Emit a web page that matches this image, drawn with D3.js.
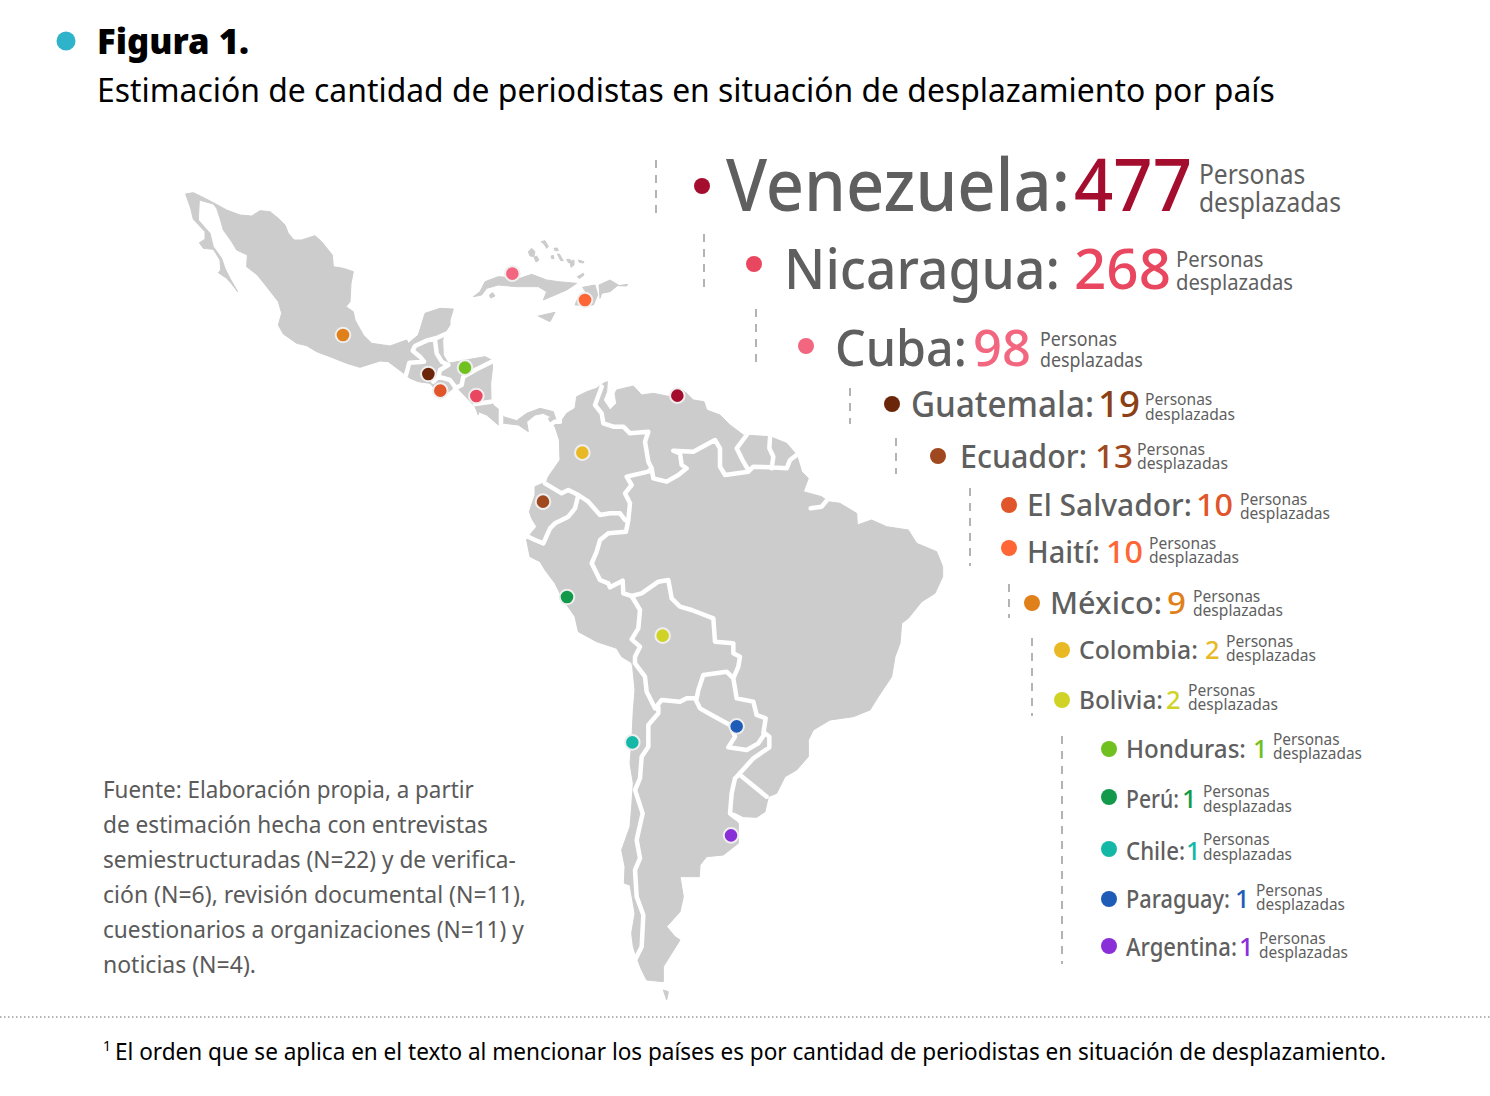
<!DOCTYPE html>
<html lang="es">
<head>
<meta charset="UTF-8">
<title>Figura 1</title>
<script src="https://d3js.org/d3.v7.min.js"></script>
<style>
body { margin: 0; background: #fff; }
svg { display: block; }
text { font-family: "Noto Sans", sans-serif; }
.land { fill: #cccccc; stroke: #cccccc; stroke-width: 1; stroke-linejoin: round; }
.border { fill: none; stroke: #fff; stroke-width: 4.5; stroke-linejoin: round; stroke-linecap: round; }
.guide { stroke: #9a9a9a; stroke-width: 1.5; stroke-dasharray: 8 7; }
.name, .sub { fill: #5f5f5f; }
.name, .number { font-weight: 500; }
.source { fill: #5a5a5a; }
.heading { font-weight: 900; fill: #000; }
</style>
</head>
<body>
<script>
// chart values
const countries = ["Venezuela", "Nicaragua", "Cuba", "Guatemala", "Ecuador", "El Salvador", "Haití", "México", "Colombia", "Bolivia", "Honduras", "Perú", "Chile", "Paraguay", "Argentina"]
const counts = [477, 268, 98, 19, 13, 10, 10, 9, 2, 2, 1, 1, 1, 1, 1]
const unitLines = ["Personas", "desplazadas"]
const sourceLines = [
  "Fuente: Elaboración propia, a partir",
  "de estimación hecha con entrevistas",
  "semiestructuradas (N=22) y de verifica-",
  "ción (N=6), revisión documental (N=11),",
  "cuestionarios a organizaciones (N=11) y",
  "noticias (N=4)."
]

// where each country's marker sits on the traced map sheet
const markerX = [2032, 1429, 1537, 1285, 1629, 1321, 1755, 1029, 1747, 1988, 1395, 1701, 1897, 2210, 2193]
const markerY = [1187, 1188, 821, 1122, 1505, 1172, 900, 1005, 1358, 1907, 1103, 1791, 2227, 2179, 2506]

// map outlines, traced on a sheet of three units per pixel
const mainland = [[557,582],[580,578],[605,590],[640,608],[680,630],[720,645],[755,648],[780,632],[810,635],[835,655],[855,675],[865,700],[882,720],[905,720],[945,707],[965,725],[997,765],[1000,800],[1030,805],[1060,815],[1053,850],[1050,905],[1038,920],[1060,935],[1065,960],[1090,1005],[1115,1030],[1150,1035],[1170,1038],[1220,1020],[1225,1030],[1255,1005],[1275,940],[1320,925],[1360,927],[1350,960],[1350,975],[1335,998],[1328,1020],[1330,1065],[1345,1090],[1415,1077],[1455,1070],[1475,1080],[1478,1100],[1472,1150],[1473,1202],[1480,1215],[1500,1232],[1510,1250],[1550,1262],[1580,1240],[1620,1225],[1660,1235],[1670,1265],[1680,1270],[1700,1240],[1725,1225],[1730,1190],[1760,1175],[1790,1165],[1810,1150],[1822,1145],[1820,1175],[1810,1200],[1830,1230],[1850,1210],[1845,1180],[1850,1170],[1900,1158],[1925,1185],[1960,1180],[2010,1190],[2055,1175],[2080,1200],[2112,1205],[2120,1230],[2160,1245],[2190,1275],[2230,1305],[2310,1310],[2360,1330],[2390,1365],[2405,1415],[2425,1435],[2410,1475],[2465,1490],[2485,1505],[2520,1510],[2570,1540],[2572,1575],[2615,1560],[2660,1580],[2725,1590],[2750,1630],[2810,1655],[2828,1700],[2828,1730],[2805,1780],[2765,1805],[2725,1855],[2705,1870],[2700,1930],[2685,1970],[2675,2030],[2635,2090],[2610,2130],[2560,2150],[2490,2160],[2440,2190],[2425,2220],[2425,2270],[2390,2310],[2355,2330],[2330,2380],[2305,2390],[2295,2435],[2270,2452],[2230,2450],[2200,2435],[2195,2450],[2215,2470],[2215,2530],[2170,2565],[2120,2570],[2100,2595],[2098,2630],[2040,2630],[2050,2690],[2040,2735],[2000,2780],[2025,2810],[2040,2820],[1990,2900],[1990,2945],[1940,2940],[1925,2910],[1915,2885],[1900,2840],[1895,2800],[1905,2740],[1890,2655],[1873,2650],[1875,2600],[1865,2550],[1890,2480],[1895,2420],[1900,2350],[1890,2290],[1895,2230],[1900,2130],[1905,2070],[1898,2000],[1895,1988],[1865,1970],[1850,1945],[1790,1925],[1735,1895],[1725,1850],[1690,1800],[1665,1750],[1635,1710],[1620,1685],[1590,1670],[1580,1620],[1585,1610],[1610,1580],[1595,1555],[1588,1535],[1605,1485],[1605,1460],[1640,1445],[1645,1430],[1680,1380],[1678,1320],[1665,1280],[1650,1265],[1645,1255],[1655,1252],[1630,1240],[1605,1245],[1580,1265],[1585,1295],[1555,1275],[1513,1270],[1495,1275],[1460,1245],[1435,1235],[1435,1245],[1425,1220],[1378,1170],[1370,1158],[1360,1165],[1325,1190],[1290,1150],[1255,1145],[1230,1135],[1218,1125],[1165,1085],[1140,1083],[1080,1102],[1040,1090],[990,1070],[950,1055],[920,1037],[890,1030],[850,1002],[835,975],[845,940],[835,905],[800,860],[772,825],[740,800],[742,765],[710,750],[695,725],[670,690],[660,655],[650,625],[640,612],[598,600],[595,660],[630,700],[640,740],[665,775],[675,805],[690,835],[713,875],[695,852],[680,835],[655,818],[662,810],[660,780],[640,748],[610,745],[598,728],[615,718],[615,695],[580,658],[572,625],[557,582]]
const islands = [
  [[1420,890],[1440,875],[1455,845],[1495,830],[1560,835],[1595,823],[1640,840],[1675,845],[1730,850],[1700,870],[1630,900],[1640,875],[1615,860],[1550,860],[1495,855],[1460,865],[1445,885],[1420,890]],
  [[1468,885],[1478,878],[1485,888],[1472,894],[1468,885]],
  [[1615,948],[1665,937],[1650,965],[1635,958],[1615,948]],
  [[1748,862],[1785,855],[1793,885],[1780,915],[1725,915],[1735,890],[1760,880],[1748,862]],
  [[1797,855],[1830,840],[1855,855],[1830,875],[1805,880],[1800,895],[1797,855]],
  [[1855,857],[1883,853],[1880,858],[1855,857]],
  [[1585,755],[1595,745],[1605,755],[1602,770],[1590,768],[1585,755]],
  [[1602,772],[1610,768],[1617,780],[1608,786],[1602,772]],
  [[1623,725],[1635,722],[1645,740],[1640,745],[1632,732],[1623,725]],
  [[1662,745],[1672,744],[1675,752],[1665,752],[1662,745]],
  [[1653,768],[1660,766],[1662,776],[1655,776],[1653,768]],
  [[1672,762],[1678,762],[1690,782],[1682,782],[1672,762]],
  [[1700,778],[1710,778],[1715,788],[1705,788],[1700,778]],
  [[1710,785],[1722,780],[1722,795],[1713,802],[1710,785]],
  [[1735,780],[1752,785],[1750,789],[1738,787],[1735,780]],
  [[1732,830],[1750,820],[1752,825],[1738,836],[1732,830]],
  [[1990,2970],[2005,2975],[2000,3000],[1995,2985],[1990,2970]]
]
const borders = [
  [[1345,998],[1315,1012],[1280,1022],[1245,1038],[1238,1052],[1260,1070],[1272,1085],[1228,1088],[1218,1125]],
  [[1305,1020],[1310,1060],[1325,1085],[1345,1095]],
  [[1345,1095],[1320,1110],[1315,1130],[1300,1145]],
  [[1315,1130],[1350,1140],[1365,1160]],
  [[1475,1085],[1430,1108],[1390,1130],[1385,1155],[1365,1165]],
  [[1425,1212],[1473,1205]],
  [[1503,1230],[1503,1280]],
  [[1650,1275],[1665,1265],[1680,1265]],
  [[1805,1160],[1785,1215],[1805,1240],[1810,1270],[1840,1280],[1870,1280],[1890,1300],[1945,1295],[1935,1325],[1945,1385],[1955,1405]],
  [[1955,1405],[1945,1415],[1880,1430],[1895,1455],[1875,1480],[1890,1510],[1885,1560],[1878,1595]],
  [[1875,1560],[1860,1540],[1830,1540],[1800,1545],[1765,1505],[1735,1485],[1705,1470],[1685,1480],[1635,1450]],
  [[1735,1485],[1725,1525],[1705,1550],[1665,1570],[1650,1585],[1630,1630],[1605,1620],[1585,1610]],
  [[1955,1405],[1960,1435],[2000,1445],[2035,1425],[2060,1405],[2045,1395],[2040,1360],[2020,1352],[2080,1355],[2145,1320],[2160,1345],[2160,1400],[2175,1425],[2245,1415],[2260,1400],[2310,1402],[2360,1405],[2370,1380],[2390,1365]],
  [[2240,1305],[2210,1345],[2230,1385],[2245,1410]],
  [[2310,1312],[2308,1345],[2320,1370],[2315,1405]],
  [[2480,1502],[2465,1520],[2432,1525]],
  [[1878,1595],[1825,1600],[1800,1620],[1790,1655],[1775,1690],[1800,1740],[1825,1750],[1830,1762],[1868,1742],[1870,1780],[1895,1788]],
  [[1895,1788],[1920,1830],[1915,1885],[1895,1918],[1920,1940],[1905,1970],[1905,1990]],
  [[1895,1788],[1925,1780],[1975,1745],[2005,1740],[2015,1795],[2040,1820],[2075,1830],[2140,1855],[2145,1925],[2200,1930],[2200,1960],[2220,1970],[2215,2000],[2200,2035]],
  [[2200,2035],[2180,2015],[2110,2025],[2095,2070],[2090,2095]],
  [[1905,1990],[1935,2030],[1940,2075],[1965,2125]],
  [[1965,2125],[1985,2100],[2040,2105],[2060,2095],[2085,2095],[2100,2125],[2135,2145],[2190,2175],[2205,2210],[2185,2242],[2240,2250],[2275,2230],[2295,2200]],
  [[2200,2035],[2210,2095],[2260,2105],[2270,2145],[2297,2155],[2290,2200]],
  [[2295,2200],[2308,2210],[2308,2242],[2260,2275],[2210,2330]],
  [[2220,2325],[2300,2390]],
  [[2205,2335],[2195,2380],[2190,2440],[2210,2455]],
  [[1975,2120],[1975,2140],[1945,2175],[1945,2240],[1925,2270],[1920,2335],[1905,2370],[1928,2440],[1910,2520],[1920,2575],[1905,2610],[1910,2690],[1930,2745],[1925,2840],[1905,2880]]
]

// palette
const markerColors = ["#a50d2e", "#e8475f", "#f2667f", "#6b2508", "#a0481f", "#e0562a", "#ff6635", "#e0801a", "#e8b825", "#d0d325", "#70c020", "#129a4a", "#15b8a6", "#1e5cb8", "#8a2fd8"]
const numberColors = ["#a50d2e", "#e8475f", "#f2667f", "#8b3f14", "#a0481f", "#e0562a", "#ff6635", "#e0801a", "#e8b825", "#d0d325", "#70c020", "#129a4a", "#15b8a6", "#1e5cb8", "#8a2fd8"]

// layout of the stacked list, one entry per country
const dotPos = [[702,186],[754,264],[806,346],[892,404],[938,456],[1009,505],[1009,548],[1032,603],[1062,650],[1062,700],[1109,749],[1109,797],[1109,849],[1109,899],[1109,946]]
const nameSpan = [[726,1070],[784,1060],[835,967],[911,1094],[960,1087],[1027,1192],[1027,1100],[1050,1162],[1079,1198],[1079,1163],[1126,1246],[1126,1179],[1126,1185],[1126,1230],[1126,1237]]
const numberSpan = [[1074,1192],[1074,1171],[973,1031],[1098,1140],[1095,1133],[1196,1233],[1106,1143],[1167,1186],[1205,1219.6],[1166,1180.6],[1253,1267.6],[1182,1196.6],[1186,1200.6],[1235,1249.6],[1239,1253.6]]
const baselines = [211,289,366,417,468,516,563,614,659,709,758,808,860,908,956]
const nameSizes = [72,57,50,37,33,31.5,31.5,31.5,25.5,25.5,25.5,25.5,25.5,25.5,25.5]
const unitX = [1199,1176,1040,1145,1137,1240,1149,1193,1226,1188,1273,1203,1203,1256,1259]
const unitY = [[184,212],[267,290],[346,367],[405,420],[455,469],[505,519],[549,563],[602,616],[647,661],[696,710],[745,759],[797,812],[845,860],[896,910],[944,958]]
const unitSizes = [27,22.5,20.5,17,17,17,17,17,17,17,17,17,17,17,17]
const unitEnds = [1341,1293,1143,1235,1228,1330,1239,1283,1316,1278,1362,1292,1292,1345,1348]
const guides = [[656,160,218],[704,234,292],[756,309,368],[850,388,424],[896,438,474],[970,488,566],[1009,584,618],[1032,638,716],[1062,736,964]]

const svg = d3.select("body").append("svg").attr("width", 1490).attr("height", 1096)

// squeezes a text into the span it takes in the original, which uses a narrower face
function fitted(g, str, x, y, end, size, cls) {
  const t = g.append("text").attr("font-size", size).attr("class", cls || null).text(str)
  const k = (end - x) / t.node().getComputedTextLength()
  return t.attr("transform", `translate(${x},${y}) scale(${k},1)`)
}

// heading
svg.append("circle").attr("cx", 66).attr("cy", 41).attr("r", 9.5).attr("fill", "#2fb3cb")
fitted(svg, "Figura 1.", 97, 54, 249, 35, "heading")
fitted(svg, "Estimación de cantidad de periodistas en situación de desplazamiento por país", 97, 102, 1275, 33).attr("fill", "#000")

// map
const projection = d3.geoIdentity().scale(1 / 3)
const path = d3.geoPath(projection)
const mapG = svg.append("g")
mapG.append("path").attr("class", "land")
  .attr("d", path({ type: "MultiPolygon", coordinates: [[mainland]].concat(islands.map(d => [d])) }))
mapG.append("path").attr("class", "border")
  .attr("d", path({ type: "MultiLineString", coordinates: borders }))
mapG.selectAll("circle").data(countries).enter().append("circle")
  .attr("cx", (d, i) => projection([markerX[i], markerY[i]])[0])
  .attr("cy", (d, i) => projection([markerX[i], markerY[i]])[1])
  .attr("r", 7.3)
  .attr("fill", (d, i) => markerColors[i])
  .attr("stroke", "#efefef").attr("stroke-width", 2)

// stacked list
svg.selectAll("line.guide").data(guides).enter().append("line").attr("class", "guide")
  .attr("x1", d => d[0]).attr("x2", d => d[0]).attr("y1", d => d[1]).attr("y2", d => d[2])

countries.forEach((name, i) => {
  const g = svg.append("g")
  g.append("circle").attr("cx", dotPos[i][0]).attr("cy", dotPos[i][1]).attr("r", 8).attr("fill", markerColors[i])
  fitted(g, name + ":", nameSpan[i][0], baselines[i], nameSpan[i][1], nameSizes[i], "name")
  fitted(g, String(counts[i]), numberSpan[i][0], baselines[i], numberSpan[i][1], nameSizes[i], "number").attr("fill", numberColors[i])

  // the two unit lines are one text block, tightly leaded as in the original
  const unit = g.append("text").attr("class", "sub").attr("font-size", unitSizes[i])
  const spans = unitLines.map((u, j) => unit.append("tspan").attr("x", 0).attr("y", unitY[i][j]).text(u))
  const k = (unitEnds[i] - unitX[i]) / spans[1].node().getComputedTextLength()
  unit.attr("transform", `translate(${unitX[i]},0) scale(${k},1)`)
})

// source note
const sourceEnds = [474, 488, 516, 526, 524, 256]
sourceLines.forEach((line, i) => {
  fitted(svg, line, 103, 798 + i * 35, sourceEnds[i], 24, "source")
})

// footnote
svg.append("line").attr("x1", 0).attr("x2", 1490).attr("y1", 1017).attr("y2", 1017)
  .attr("stroke", "#9a9a9a").attr("stroke-width", 1.5).attr("stroke-dasharray", "1.5 2.5")
svg.append("text").attr("x", 103).attr("y", 1051).attr("font-size", 14).attr("fill", "#000").text("1")
fitted(svg, "El orden que se aplica en el texto al mencionar los países es por cantidad de periodistas en situación de desplazamiento.", 115, 1060, 1387, 24).attr("fill", "#000")
</script>
</body>
</html>
